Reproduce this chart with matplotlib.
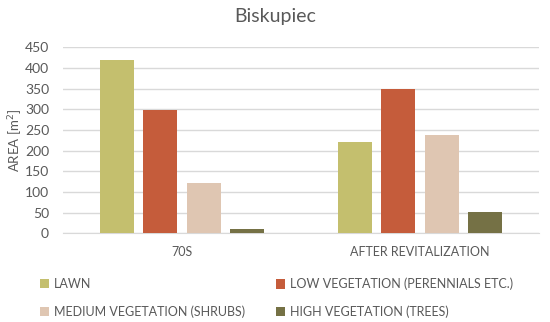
import numpy as np
import matplotlib
matplotlib.use("Agg")
import matplotlib.pyplot as plt

plt.rcParams['font.family'] = ['Lato', 'DejaVu Sans']

categories = ["70S", "AFTER REVITALIZATION"]
series_names = ["LAWN", "LOW VEGETATION (PERENNIALS ETC.)",
                "MEDIUM VEGETATION (SHRUBS)", "HIGH VEGETATION (TREES)"]
lawn = [420, 220]
low_veg = [298, 349]
medium_veg = [121, 238]
high_veg = [10, 51]
colors = ["#C4BF6E", "#C55C3B", "#DFC6B2", "#757145"]
yticks = [0, 50, 100, 150, 200, 250, 300, 350, 400, 450]

text_col = "#595959"
grid_col = "#D9D9D9"

fig = plt.figure(figsize=(5.5, 3.22), dpi=100)
ax = fig.add_axes([0.1145, 0.2755, 0.8655, 0.5775])

x = np.arange(len(categories))
step = 0.182
width = 0.143
handles = []
for i, vals in enumerate([lawn, low_veg, medium_veg, high_veg]):
    b = ax.bar(x + (i - 1.5) * step, vals, width, color=colors[i],
               label=series_names[i], zorder=3)
    handles.append(b)

ax.set_xlim(-0.5, 1.5)
ax.set_ylim(0, 450)
ax.set_yticks(yticks)
ax.set_xticks(x)
ax.set_xticklabels(categories)
ax.yaxis.grid(True, color=grid_col, linewidth=1, zorder=0)
for s in ["top", "right", "left"]:
    ax.spines[s].set_visible(False)
ax.spines["bottom"].set_color(grid_col)
ax.tick_params(axis="both", length=0, colors=text_col)
ax.tick_params(axis="y", labelsize=10, pad=10)
ax.tick_params(axis="x", labelsize=9, pad=9)
ax.set_ylabel("AREA [m$^2$]", color=text_col, fontsize=9.5)
ax.yaxis.set_label_coords(-0.08, 0.5)

fig.suptitle("Biskupiec", x=0.5, y=0.975, color=text_col, fontsize=14)

def column_legend(idx, xpos):
    leg = fig.legend([handles[i] for i in idx], [series_names[i] for i in idx],
                     loc="center left", bbox_to_anchor=(xpos, 0.075),
                     frameon=False, fontsize=9, handlelength=0.75,
                     handleheight=0.75, handletextpad=0.35, labelspacing=1.2,
                     borderaxespad=0, borderpad=0)
    for t in leg.get_texts():
        t.set_color(text_col)
    return leg

column_legend([0, 2], 0.0727)
column_legend([1, 3], 0.502)

fig.savefig("out.png", dpi=100)
